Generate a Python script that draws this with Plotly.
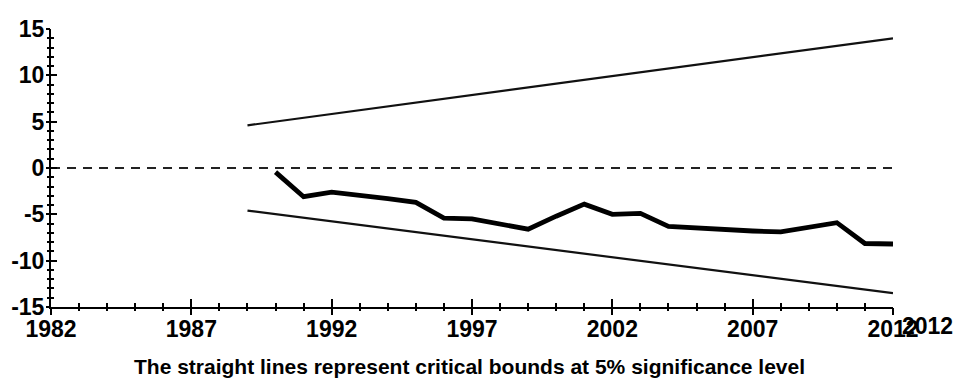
import plotly.graph_objects as go

# CUSUM statistic by year
years = [1990, 1991, 1992, 1993, 1994, 1995, 1996, 1997, 1998, 1999, 2000,
         2001, 2002, 2003, 2004, 2005, 2006, 2007, 2008, 2009, 2010, 2011, 2012]
cusum = [-0.45, -3.1, -2.6, -2.9, -3.3, -3.7, -5.4, -5.5, -6.1, -6.6, -5.2,
         -3.9, -5.0, -4.9, -6.3, -6.5, -6.7, -6.8, -6.9, -6.45, -5.9, -8.15, -8.2]

# 5% critical bounds (straight lines between the end points)
bound_years = [1989, 2012]
upper_bound = [4.6, 14.0]
lower_bound = [-4.6, -13.5]

# zero reference
zero_years = [1982, 2012]
zero_line = [0, 0]

x_tickvals = [1982, 1987, 1992, 1997, 2002, 2007, 2012]
x_ticktext = ["1982", "1987", "1992", "1997", "2002", "2007", "2012"]
y_tickvals = [-15, -10, -5, 0, 5, 10, 15]
y_ticktext = ["-15", "-10", "-5", "0", "5", "10", "15"]

caption = "The straight lines represent critical bounds at 5% significance level"

FAMILY = "Liberation Sans, Arial, sans-serif"

fig = go.Figure()
fig.add_trace(go.Scatter(x=zero_years, y=zero_line, mode="lines",
                         line=dict(color="#222", width=1.8, dash="9px,7px"),
                         hoverinfo="skip"))
fig.add_trace(go.Scatter(x=bound_years, y=upper_bound, mode="lines",
                         line=dict(color="#111", width=2.2)))
fig.add_trace(go.Scatter(x=bound_years, y=lower_bound, mode="lines",
                         line=dict(color="#111", width=2.2)))
fig.add_trace(go.Scatter(x=years, y=cusum, mode="lines",
                         line=dict(color="#000", width=4.8)))
# carrier trace for the overlay axes that draw the outward ticks
fig.add_trace(go.Scatter(x=[1982], y=[0], xaxis="x2", yaxis="y2",
                         mode="markers", marker=dict(opacity=0), hoverinfo="skip"))

axis_common = dict(showgrid=False, zeroline=False, showline=True,
                   linecolor="#000", linewidth=2, tickcolor="#000")

tick_font_x = dict(family=FAMILY, size=23, color="#000", weight="bold")
tick_font_y = dict(family=FAMILY, size=23, color="#000", weight="bold")

fig.update_layout(
    width=955, height=385,
    margin=dict(l=51, r=62, t=29, b=78),
    paper_bgcolor="white", plot_bgcolor="white",
    showlegend=False,
    xaxis=dict(range=[1982, 2012], tickmode="array", tickvals=x_tickvals,
               ticktext=x_ticktext, ticks="inside", ticklen=8, tickwidth=2,
               minor=dict(dtick=1, ticks="inside", ticklen=4, tickwidth=2, tickcolor="#000"),
               tickfont=tick_font_x, **axis_common),
    yaxis=dict(range=[-15, 15], tickmode="array", tickvals=y_tickvals,
               ticktext=y_ticktext, ticks="inside", ticklen=6, tickwidth=2,
               minor=dict(dtick=1, ticks="inside", ticklen=3, tickwidth=2, tickcolor="#000"),
               tickfont=tick_font_y, **axis_common),
    xaxis2=dict(overlaying="x", matches="x", anchor="y2", range=[1982, 2012],
                tickmode="array", tickvals=x_tickvals, ticks="outside", ticklen=7,
                tickwidth=2, showticklabels=False, showgrid=False, zeroline=False,
                showline=False, tickcolor="#000",
                minor=dict(dtick=1, ticks="outside", ticklen=3, tickwidth=2, tickcolor="#000")),
    yaxis2=dict(overlaying="y", matches="y", anchor="x2", range=[-15, 15],
                tickmode="array", tickvals=y_tickvals, ticks="outside", ticklen=4,
                tickwidth=2, showticklabels=False, showgrid=False, zeroline=False,
                showline=False, tickcolor="#000",
                minor=dict(dtick=1, ticks="outside", ticklen=3, tickwidth=2, tickcolor="#000")),
)

# second year label drawn just right of the axis end
fig.add_annotation(x=1.0404, y=0, xref="paper", yref="paper",
                   xanchor="center", yanchor="top", yshift=-4,
                   text="2012", showarrow=False, font=tick_font_x)

fig.add_annotation(x=0.4976, y=-0.215, xref="paper", yref="paper",
                   xanchor="center", yanchor="middle", text=caption, showarrow=False,
                   font=dict(family=FAMILY, size=21, color="#000", weight="bold"))

fig.write_html("out.html")
